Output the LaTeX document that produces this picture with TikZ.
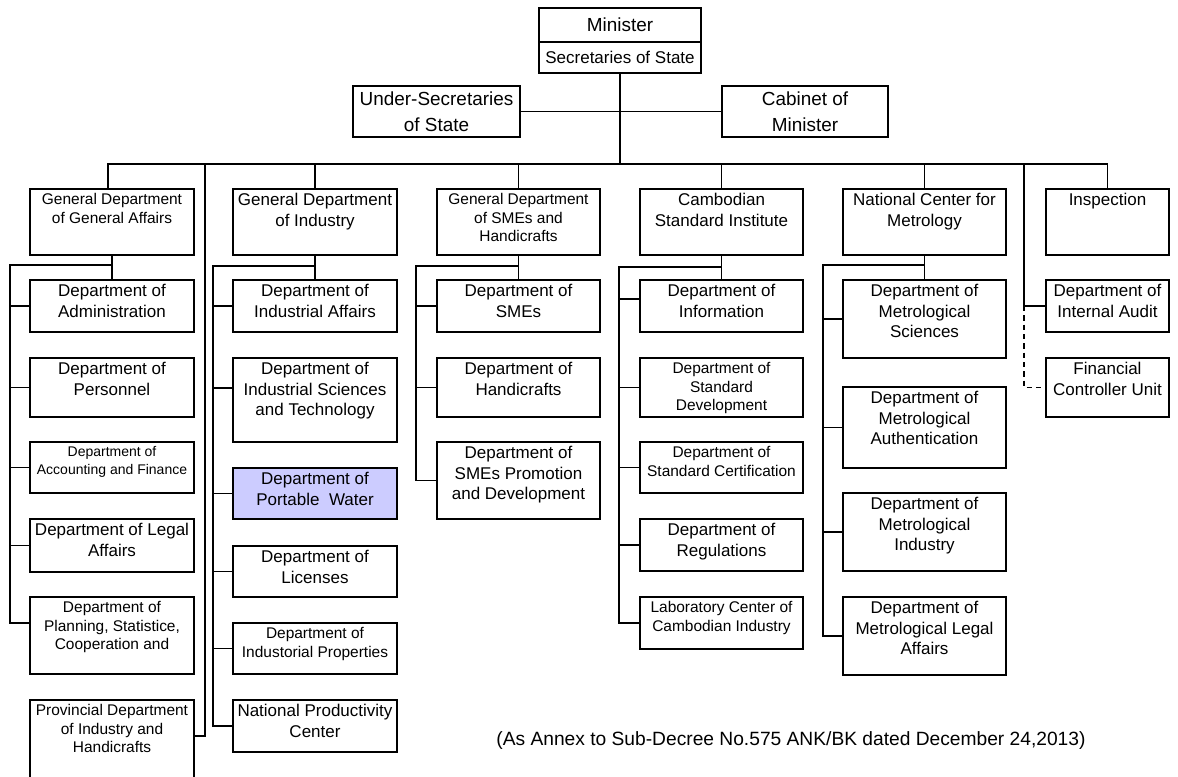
\documentclass[tikz,border=0pt]{standalone}
\usepackage{fontspec}
\setmainfont{Liberation Sans}
\definecolor{waterfill}{RGB}{204,204,255}

% Box whose text sits at the top, corners given in pixel units
\newcommand\orgbox[7][]{%
  \pgfmathsetlengthmacro\bw{(#5-#3)*0.75pt}%
  \pgfmathsetlengthmacro\bh{(#6-#4)*0.75pt}%
  \node[unitbox,lg,#1,anchor=north west] (#2) at (#3,#4)
    {\parbox[t][\bh][t]{\bw}{\centering\vspace*{3.4pt}#7\par}};%
}
% Box whose text is centred vertically
\newcommand\midbox[7][]{%
  \pgfmathsetlengthmacro\bw{(#5-#3)*0.75pt}%
  \pgfmathsetlengthmacro\bh{(#6-#4)*0.75pt}%
  \node[unitbox,lg,#1,anchor=north west] (#2) at (#3,#4)
    {\parbox[t][\bh][c]{\bw}{\centering #7\par}};%
}

\begin{document}
\begin{tikzpicture}[x=0.75pt,y=-0.75pt,
  unitbox/.style={draw=black,line width=1.5pt,inner sep=0pt,outer sep=0pt},
  lg/.style={font=\fontsize{12.75}{15.4}\selectfont},
  md/.style={font=\fontsize{11.6}{13.7}\selectfont},
  sm/.style={font=\fontsize{10.5}{13.2}\selectfont},
  hd/.style={font=\fontsize{14.2}{19.5}\selectfont},
  link/.style={draw=black,line width=0.9pt},
  note/.style={font=\fontsize{14.4}{16}\selectfont,inner sep=0pt}]

\useasboundingbox[fill=white] (0,0) rectangle (1178,776);

% ---- top of the hierarchy ----
\midbox[hd]{min}{539}{8}{701}{42}{Minister}
\midbox{sec}{539}{42}{701}{73}{Secretaries of State}
\midbox[hd]{usec}{353}{86}{520}{137}{Under-Secretaries\\of State}
\midbox[hd]{cab}{722}{86}{888}{137}{Cabinet of\\Minister}

% ---- general departments ----
\orgbox[md]{gga}{30}{189}{194}{255}{General Department\\of General Affairs}
\orgbox{gdi}{233}{189}{397}{255}{General Department\\of Industry}
\orgbox[md]{gsme}{437}{189}{600}{255}{General Department\\of SMEs and\\Handicrafts}
\orgbox{csi}{640}{189}{803}{255}{Cambodian\\Standard Institute}
\orgbox{ncm}{843}{189}{1006}{255}{National Center for\\Metrology}
\orgbox{insp}{1046}{189}{1169}{255}{Inspection}

% ---- general affairs ----
\orgbox{admin}{30}{280}{194}{332}{Department of\\Administration}
\orgbox{pers}{30}{358}{194}{417}{Department of\\Personnel}
\orgbox[sm]{acct}{30}{442}{194}{493}{Department of\\Accounting and Finance}
\orgbox{legal}{30}{519}{194}{572}{Department of Legal\\Affairs}
\orgbox[md]{plan}{30}{597}{194}{674}{Department of\\Planning, Statistice,\\Cooperation and}
\orgbox[md,draw=none]{prov}{30}{700}{194}{772}{Provincial Department\\of Industry and\\Handicrafts}
\draw[line width=1.5pt] (prov.north west |- 0,777) -- (prov.north west)
  -- (prov.north east) -- (prov.north east |- 0,777);

% ---- industry ----
\orgbox{indaff}{233}{280}{397}{332}{Department of\\Industrial Affairs}
\orgbox{scitech}{233}{358}{397}{442}{Department of\\Industrial Sciences\\and Technology}
\orgbox[fill=waterfill]{water}{233}{468}{397}{519}{Department of\\Portable\ \ Water}
\orgbox{lic}{233}{546}{397}{597}{Department of\\Licenses}
\orgbox[md]{prop}{233}{623}{397}{674}{Department of\\Industorial Properties}
\orgbox{npc}{233}{700}{397}{752}{National Productivity\\Center}

% ---- SMEs and handicrafts ----
\orgbox{smes}{437}{280}{600}{332}{Department of\\SMEs}
\orgbox{handi}{437}{358}{600}{417}{Department of\\Handicrafts}
\orgbox{promo}{437}{442}{600}{519}{Department of\\SMEs Promotion\\and Development}

% ---- standards ----
\orgbox{info}{640}{280}{803}{332}{Department of\\Information}
\orgbox[md]{stddev}{640}{358}{803}{417}{Department of\\Standard\\Development}
\orgbox[md]{stdcert}{640}{442}{803}{493}{Department of\\Standard Certification}
\orgbox{regs}{640}{519}{803}{571}{Department of\\Regulations}
\orgbox[md]{lab}{640}{597}{803}{649}{Laboratory Center of\\Cambodian Industry}

% ---- metrology ----
\orgbox{msci}{843}{280}{1006}{358}{Department of\\Metrological\\Sciences}
\orgbox{mauth}{843}{387}{1006}{468}{Department of\\Metrological\\Authentication}
\orgbox{mind}{843}{493}{1006}{571}{Department of\\Metrological\\Industry}
\orgbox{mlegal}{843}{597}{1006}{675}{Department of\\Metrological Legal\\Affairs}

% ---- inspection side ----
\orgbox{audit}{1046}{280}{1169}{332}{Department of\\Internal Audit}
\orgbox{fcu}{1046}{358}{1169}{417}{Financial\\Controller Unit}

\node[note] (annex) at (791,741) {(As Annex to Sub-Decree No.575 ANK/BK dated December 24,2013)};

% ---- connectors ----
\coordinate (bus) at (620,164);
\draw[link] (sec.south) -- (bus);
\draw[link] (usec.east) -- (cab.west);
\draw[link] ([xshift=-3pt]gga.north) |- (insp.north |- bus) -- (insp.north);
\foreach \n in {gdi,gsme,csi,ncm} \draw[link] (\n.north) -- (\n.north |- bus);

\coordinate (pvtop) at (205,164);
\draw[link] (pvtop) |- (prov.east);

\coordinate (iatop) at (1024,164);
\draw[link] (iatop) |- (audit.west);
\draw[link,dash pattern=on 4pt off 3pt] (iatop |- audit.west) |- (fcu.west);

% general affairs
\coordinate (c1) at (10,265);
\draw[link] (gga.south) -- (admin.north);
\draw[link] (gga.south |- c1) -- (c1) |- ([yshift=9.4pt]plan.west);
\foreach \n in {admin,pers,acct,legal} \draw[link] (c1 |- \n.west) -- (\n.west);

% industry
\coordinate (c2) at (213,266);
\draw[link] (gdi.south) -- (indaff.north);
\draw[link] (gdi.south |- c2) -- (c2) |- (npc.west);
\draw[link] (c2 |- scitech.west) ++(0,-12) coordinate (st) -- (scitech.west |- st);
\foreach \n in {indaff,water,lic,prop} \draw[link] (c2 |- \n.west) -- (\n.west);

% SMEs
\coordinate (c3) at (416,266);
\draw[link] (gsme.south) -- (smes.north);
\draw[link] (gsme.south |- c3) -- (c3) |- (promo.west);
\foreach \n in {smes,handi} \draw[link] (c3 |- \n.west) -- (\n.west);

% standards
\coordinate (c4) at (619,267);
\draw[link] (csi.south) -- (info.north);
\draw[link] (csi.south |- c4) -- (c4) |- (lab.west);
\draw[link] (c4 |- info.west) ++(0,-7) coordinate (inf) -- (info.west |- inf);
\foreach \n in {stddev,stdcert,regs} \draw[link] (c4 |- \n.west) -- (\n.west);

% metrology
\coordinate (c5) at (823,265);
\draw[link] (ncm.south) -- (msci.north);
\draw[link] (ncm.south |- c5) -- (c5) |- (mlegal.west);
\foreach \n in {msci,mauth,mind} \draw[link] (c5 |- \n.west) -- (\n.west);

\end{tikzpicture}
\end{document}
